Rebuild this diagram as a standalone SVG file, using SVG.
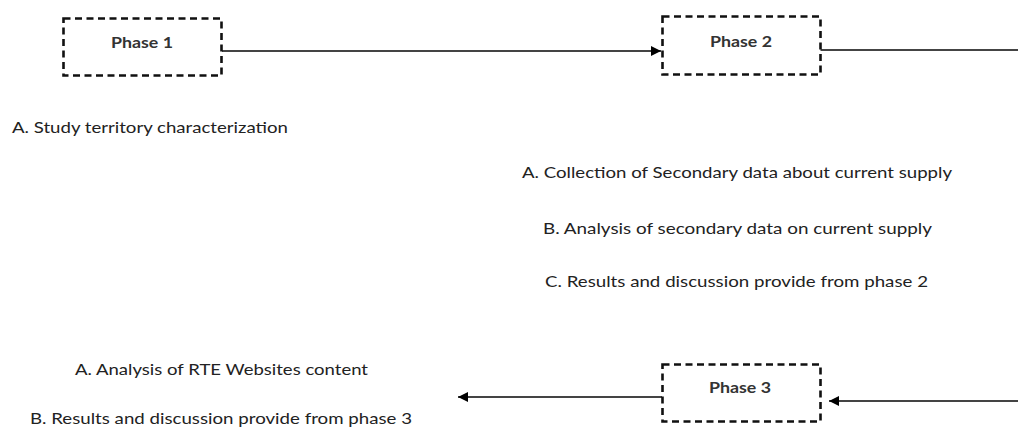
<svg xmlns="http://www.w3.org/2000/svg" width="1018" height="432" viewBox="0 0 1018 432">
<style>
.box{fill:#fff;stroke:#111;stroke-width:2.6;stroke-dasharray:7 4.5}
.lbl{font-family:Lato,"Open Sans","Liberation Sans",sans-serif;font-size:15px;font-weight:bold;fill:#333;text-anchor:middle}
.txt{font-family:Lato,"Open Sans","Liberation Sans",sans-serif;font-size:16px;fill:#222}
.con{fill:none;stroke:#444;stroke-width:1.8}
</style>
<defs>
<marker id="arr" viewBox="0 0 10 10" refX="10" refY="5" markerWidth="10" markerHeight="10" markerUnits="userSpaceOnUse" orient="auto">
<path d="M0,0 L10,5 L0,10 z" fill="#000"/>
</marker>
</defs>
<rect width="1018" height="432" fill="#fff"/>
<g id="connectors">
<path class="con" d="M222,51 H661" marker-end="url(#arr)"/>
<path class="con" d="M820,50 H1018"/>
<path class="con" d="M1018,401 H829" marker-end="url(#arr)"/>
<path class="con" d="M662,397 H458" marker-end="url(#arr)"/>
</g>
<g id="phase1">
<rect class="box" x="63.5" y="18.5" width="158" height="57"/>
<text class="lbl" x="142" y="48" textLength="62" lengthAdjust="spacingAndGlyphs">Phase 1</text>
</g>
<g id="phase2">
<rect class="box" x="662.5" y="16.5" width="158" height="58"/>
<text class="lbl" x="741" y="47" textLength="62" lengthAdjust="spacingAndGlyphs">Phase 2</text>
</g>
<g id="phase3">
<rect class="box" x="662.5" y="364.5" width="158" height="57"/>
<text class="lbl" x="740" y="393" textLength="62" lengthAdjust="spacingAndGlyphs">Phase 3</text>
</g>
<g id="texts">
<text class="txt" x="12" y="133" textLength="276" lengthAdjust="spacingAndGlyphs">A. Study territory characterization</text>
<text class="txt" x="522" y="178" textLength="430" lengthAdjust="spacingAndGlyphs">A. Collection of Secondary data about current supply</text>
<text class="txt" x="543" y="234" textLength="389" lengthAdjust="spacingAndGlyphs">B. Analysis of secondary data on current supply</text>
<text class="txt" x="545" y="287" textLength="383" lengthAdjust="spacingAndGlyphs">C. Results and discussion provide from phase 2</text>
<text class="txt" x="75" y="375" textLength="293" lengthAdjust="spacingAndGlyphs">A. Analysis of RTE Websites content</text>
<text class="txt" x="30" y="424" textLength="382" lengthAdjust="spacingAndGlyphs">B. Results and discussion provide from phase 3</text>
</g>
</svg>
